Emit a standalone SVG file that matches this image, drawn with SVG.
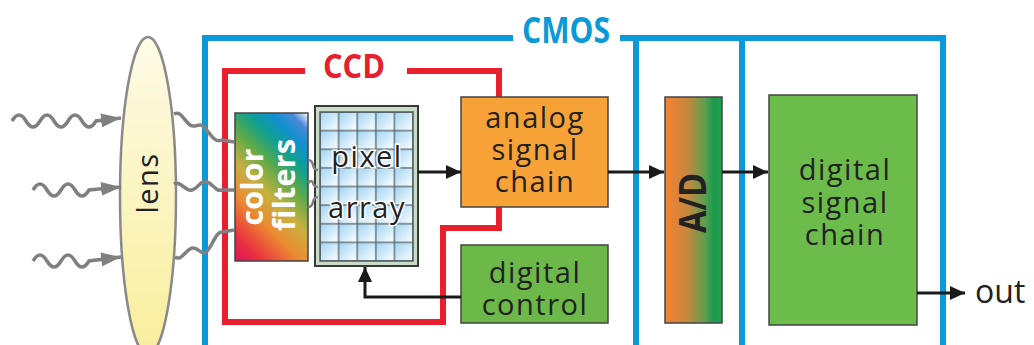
<svg xmlns="http://www.w3.org/2000/svg" width="1034" height="345" viewBox="0 0 1034 345">
<defs>
<style>
.lbl{font-family:"Open Sans","Noto Sans",sans-serif;font-size:29px;letter-spacing:1.5px;fill:#222;text-anchor:middle}
.box{stroke:#444;stroke-width:1.5}
.cmos{fill:none;stroke:#0a9ad8;stroke-width:6}
.ccd{fill:none;stroke:#e8202e;stroke-width:6}
.ray{fill:none;stroke:#808080;stroke-width:3.5}
.sq{fill:none;stroke:#808080;stroke-width:2.5}
.wire{fill:none;stroke:#1a1a1a;stroke-width:3}
</style>
<linearGradient id="lensG" x1="0" y1="0" x2="0" y2="1">
<stop offset="0" stop-color="#fdfbe6"/>
<stop offset="1" stop-color="#f9ee9c"/>
</linearGradient>
<linearGradient id="cfG" gradientUnits="userSpaceOnUse" x1="216" y1="242" x2="327" y2="132">
<stop offset="0" stop-color="#e0105a"/>
<stop offset="0.12" stop-color="#e83040"/>
<stop offset="0.3" stop-color="#ec8a30"/>
<stop offset="0.45" stop-color="#c8b040"/>
<stop offset="0.6" stop-color="#5aaa4a"/>
<stop offset="0.72" stop-color="#10a090"/>
<stop offset="0.83" stop-color="#1090d0"/>
<stop offset="0.92" stop-color="#4a88d8"/>
<stop offset="1" stop-color="#ffffff"/>
</linearGradient>
<linearGradient id="adG" x1="0" y1="0" x2="1" y2="0">
<stop offset="0" stop-color="#f58232"/>
<stop offset="0.4" stop-color="#c4883e"/>
<stop offset="0.7" stop-color="#5e9e4e"/>
<stop offset="0.85" stop-color="#1d9a4e"/>
<stop offset="1" stop-color="#23a04e"/>
</linearGradient>
<linearGradient id="cellG" x1="0" y1="0" x2="1" y2="1">
<stop offset="0" stop-color="#9fd3f2"/>
<stop offset="0.6" stop-color="#d8eefb"/>
<stop offset="1" stop-color="#ffffff"/>
</linearGradient>
<pattern id="grid" patternUnits="userSpaceOnUse" x="320" y="112" width="18.6" height="18.625">
<rect width="18.6" height="18.625" fill="url(#cellG)" stroke="#4d5a60" stroke-width="1.2"/>
</pattern>
<marker id="ah" markerUnits="userSpaceOnUse" markerWidth="15" markerHeight="14" refX="15" refY="7" orient="auto">
<path d="M0,0 L15,7 L0,14 z" fill="#1a1a1a"/>
</marker>
<marker id="gh" markerUnits="userSpaceOnUse" markerWidth="20" markerHeight="14" refX="20" refY="7" orient="auto">
<path d="M0,0 L20,7 L0,14 z" fill="#808080"/>
</marker>
</defs>
<rect width="1034" height="345" fill="#ffffff"/>

<g id="cmos-frame">
<path class="cmos" d="M513,38 H205 V350 M620,38 H943 V350 M636,38 V350 M742,38 V350"/>
<text x="566" y="43" font-family="Open Sans, Noto Sans, sans-serif" font-weight="bold" font-size="36" fill="#0a9ad8" text-anchor="middle" textLength="88" lengthAdjust="spacingAndGlyphs">CMOS</text>
</g>

<g id="ccd-frame">
<path class="ccd" d="M305,71 H225 V322 H443 V228 H499 V71 H407"/>
<text x="354" y="78" font-family="Open Sans, Noto Sans, sans-serif" font-weight="bold" font-size="34" fill="#e8202e" text-anchor="middle" textLength="62" lengthAdjust="spacingAndGlyphs">CCD</text>
</g>

<g id="lens">
<ellipse cx="148" cy="196" rx="28" ry="159" fill="url(#lensG)" stroke="#8a8a8a" stroke-width="2.5"/>
<text class="lbl" transform="translate(158,183) rotate(-90)" font-size="34" letter-spacing="0">lens</text>
</g>

<g id="color-filters">
<rect class="box" x="235" y="113" width="73" height="148" fill="url(#cfG)"/>
<text transform="translate(263,187) rotate(-90)" font-family="Open Sans, Noto Sans, sans-serif" font-weight="bold" font-size="30" fill="#ffffff" text-anchor="middle" textLength="77" lengthAdjust="spacingAndGlyphs">color</text>
<text transform="translate(295,185) rotate(-90)" font-family="Open Sans, Noto Sans, sans-serif" font-weight="bold" font-size="30" fill="#ffffff" text-anchor="middle" textLength="92" lengthAdjust="spacingAndGlyphs">filters</text>
</g>

<g id="pixel-array">
<rect x="315" y="106" width="103" height="160" fill="#c9dcc6" stroke="#3a3a3a" stroke-width="2"/>
<rect x="320" y="112" width="93" height="149" fill="url(#grid)" stroke="#4d5a60" stroke-width="1.5"/>
<text class="lbl" x="367" y="167" stroke="#ffffff" stroke-width="3" paint-order="stroke" font-size="31">pixel</text>
<text class="lbl" x="367" y="218" stroke="#ffffff" stroke-width="3" paint-order="stroke" font-size="31">array</text>
</g>

<g id="analog-signal-chain">
<rect class="box" x="461" y="97" width="147" height="110" fill="#f7a236"/>
<text class="lbl" x="535" y="128">analog</text>
<text class="lbl" x="535" y="160">signal</text>
<text class="lbl" x="535" y="192">chain</text>
</g>

<g id="digital-control">
<rect class="box" x="461" y="245" width="147" height="78" fill="#6cb94a"/>
<text class="lbl" x="535" y="283">digital</text>
<text class="lbl" x="535" y="315">control</text>
</g>

<g id="ad">
<rect class="box" x="665" y="97" width="57" height="226" fill="url(#adG)"/>
<text transform="translate(706,203) rotate(-90)" font-family="Open Sans, Noto Sans, sans-serif" font-weight="bold" font-size="38" fill="#222" text-anchor="middle" textLength="60" lengthAdjust="spacingAndGlyphs">A/D</text>
</g>

<g id="digital-signal-chain">
<rect class="box" x="769" y="95" width="148" height="230" fill="#6cbc4c"/>
<text class="lbl" x="845" y="180">digital</text>
<text class="lbl" x="845" y="213">signal</text>
<text class="lbl" x="845" y="245">chain</text>
</g>

<g id="out-label">
<text x="975" y="303" font-family="Open Sans, Noto Sans, sans-serif" font-size="32" fill="#222">out</text>
</g>

<g id="connectors">
<path class="ray" marker-end="url(#gh)" d="M12,121 q7,-12 14,0 t14,0 t14,0 t14,0 t14,0 t14,0 L121,118"/>
<path class="ray" marker-end="url(#gh)" d="M33,190 q7,-12 14,0 t14,0 t14,0 t14,0 L121,187"/>
<path class="ray" marker-end="url(#gh)" d="M33,261 q7,-12 14,0 t14,0 t14,0 t14,0 L121,257"/>
<path class="ray" d="M174,114 C181,110 184,121 190,125 S199,121 205,128 S215,143 222,140 L234,142"/>
<path class="ray" d="M174,184 C181,180 185,192 192,190 S200,180 207,182 S215,192 222,190 L234,190"/>
<path class="ray" d="M175,257 C182,262 186,248 193,248 S202,258 208,250 S216,232 222,232 L234,230"/>
<path class="sq" d="M308,160 q4,0 5,5 t5,5"/>
<path class="sq" d="M308,183 q4,-4 5,0 t5,4"/>
<path class="sq" d="M308,207 q4,0 5,-5 t5,-5"/>
<path class="wire" marker-end="url(#ah)" d="M418,172 H461"/>
<path class="wire" marker-end="url(#ah)" d="M608,172 H664"/>
<path class="wire" marker-end="url(#ah)" d="M722,172 H768"/>
<path class="wire" marker-end="url(#ah)" d="M917,293 H965"/>
<path class="wire" marker-end="url(#ah)" d="M461,297 H365 V267"/>
</g>
</svg>
